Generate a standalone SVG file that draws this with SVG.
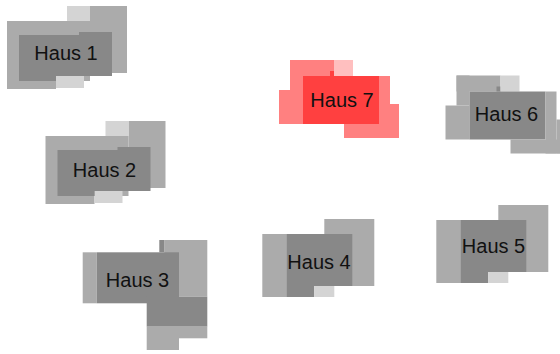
<svg xmlns="http://www.w3.org/2000/svg" width="560" height="354" viewBox="0 0 560 354">
<style>
.l{fill:#d4d4d4}.m{fill:#ababab}.d{fill:#888888}
.rl{fill:#ffbfbf}.rm{fill:#ff8080}.rd{fill:#ff4040}
text{font-family:"Liberation Sans",Arial,sans-serif;font-size:20px;fill:#111;text-anchor:middle}
</style>
<defs>
<g id="typeA">
<rect class="m" x="7" y="21" width="83" height="60"/>
<rect class="m" x="7" y="81" width="49" height="8"/>
<rect class="m" x="90" y="6" width="37" height="67"/>
<rect class="l" x="67" y="6" width="23" height="15"/>
<rect class="l" x="56" y="76" width="28" height="12"/>
<polygon class="d" points="19,35 79,35 79,32 112,32 112,76 56,76 56,81 19,81"/>
</g>
<g id="typeB">
<rect class="m" x="0" y="15" width="24" height="63"/>
<rect class="m" x="62" y="0" width="50" height="67"/>
<polygon class="d" points="24,15 90,15 90,67 52,67 52,78 24,78"/>
<rect class="l" x="52" y="67" width="20" height="11"/>
</g>
</defs>
<g id="connectors"/>
<g id="haus1">
<use href="#typeA"/>
<text x="66" y="60">Haus 1</text>
</g>
<g id="haus2">
<use href="#typeA" transform="translate(38.5,115)"/>
<text x="104.5" y="177">Haus 2</text>
</g>
<g id="haus3">
<rect class="m" x="82.7" y="252.3" width="14" height="51"/>
<rect class="m" x="164.3" y="240" width="43" height="56.7"/>
<rect class="d" x="159.3" y="240" width="5" height="12.3"/>
<rect class="d" x="96.7" y="252.3" width="82.3" height="51"/>
<rect class="d" x="146.7" y="296.7" width="60.6" height="30"/>
<rect class="m" x="146.7" y="326.7" width="32.3" height="23.3"/>
<rect class="m" x="179" y="326.7" width="28.3" height="11.6"/>
<text x="137.5" y="287">Haus 3</text>
</g>
<g id="haus4">
<use href="#typeB" transform="translate(262.3,219)"/>
<text x="319" y="269">Haus 4</text>
</g>
<g id="haus5">
<use href="#typeB" transform="translate(436.3,205)"/>
<text x="493.5" y="253">Haus 5</text>
</g>
<g id="haus6">
<g transform="translate(445.5,75.5)">
<rect class="m" x="11" y="0" width="44" height="16"/>
<rect class="m" x="11" y="0" width="13" height="30"/>
<rect class="m" x="0" y="30" width="24" height="34"/>
<rect class="d" x="51" y="11" width="4" height="5"/>
<rect class="l" x="55" y="0" width="19" height="16"/>
<rect class="d" x="24" y="16" width="76" height="48"/>
<rect class="m" x="100" y="16" width="11" height="62"/>
<rect class="m" x="111" y="44" width="9" height="34"/>
<rect class="m" x="65" y="64" width="55" height="14"/>
</g>
<text x="506.5" y="121">Haus 6</text>
</g>
<g id="haus7">
<g transform="translate(279,60)">
<rect class="rm" x="11" y="0" width="44" height="16"/>
<rect class="rm" x="11" y="0" width="13" height="30"/>
<rect class="rm" x="0" y="30" width="24" height="34"/>
<rect class="rd" x="51" y="11" width="4" height="5"/>
<rect class="rl" x="55" y="0" width="19" height="16"/>
<rect class="rd" x="24" y="16" width="76" height="48"/>
<rect class="rm" x="100" y="16" width="11" height="62"/>
<rect class="rm" x="111" y="44" width="9" height="34"/>
<rect class="rm" x="65" y="64" width="55" height="14"/>
</g>
<text x="342" y="107">Haus 7</text>
</g>
</svg>
